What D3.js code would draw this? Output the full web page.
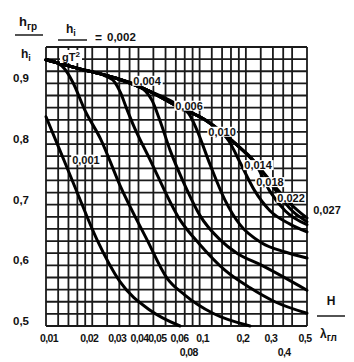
<!DOCTYPE html>
<html><head><meta charset="utf-8">
<script src="https://cdn.jsdelivr.net/npm/d3@7"></script>
<style>body{margin:0;background:#fff}svg{display:block}text{font-family:"Liberation Sans",Arial,sans-serif;font-weight:bold;fill:#111}</style>
</head><body><svg id="c" width="354" height="362"></svg>
<script>
// ---- data ----
const xGrid = [0.01,0.012,0.014,0.016,0.018,0.02,0.025,0.03,0.035,0.04,0.05,0.06,0.07,0.08,0.09,0.1,0.12,0.14,0.16,0.18,0.2,0.25,0.3,0.35,0.4,0.5];
const yGrid = d3.range(0,24).map(i=>+(0.5+i*0.02).toFixed(2));
const xTicksRow1 = [0.01,0.02,0.03,0.04,0.05,0.06,0.1,0.2,0.3,0.5];
const xTicksRow2 = [0.08,0.4];
const yTicks = [0.5,0.6,0.7,0.8,0.9];
const curveNames = ["0,001","0,002","0,004","0,006","0,010","0,014","0,018","0,022","0,027"];
const c001 = [[0.01,0.845],[0.0123,0.79],[0.0155,0.728],[0.0215,0.642],[0.0303,0.573],[0.0476,0.526],[0.0745,0.5]];
const c002 = [[0.01,0.939],[0.0118,0.934],[0.0132,0.924],[0.015,0.901],[0.0179,0.856],[0.0228,0.807],[0.0303,0.732],[0.0455,0.642],[0.0613,0.579],[0.0802,0.551],[0.122,0.521],[0.213,0.5]];
const c004 = [[0.01,0.939],[0.0166,0.924],[0.0245,0.912],[0.028,0.902],[0.0305,0.885],[0.0333,0.86],[0.0365,0.835],[0.0476,0.774],[0.0745,0.675],[0.1006,0.634],[0.146,0.592],[0.213,0.563],[0.309,0.54],[0.5,0.521]];
const c006 = [[0.01,0.939],[0.0166,0.924],[0.029,0.908],[0.04,0.895],[0.0445,0.887],[0.049,0.872],[0.0553,0.838],[0.0642,0.79],[0.0802,0.732],[0.1006,0.682],[0.136,0.642],[0.175,0.62],[0.254,0.6],[0.5,0.559]];
const c010 = [[0.01,0.939],[0.0166,0.924],[0.029,0.908],[0.0455,0.889],[0.0745,0.862],[0.085,0.85],[0.095,0.826],[0.117,0.766],[0.146,0.708],[0.183,0.667],[0.254,0.637],[0.36,0.622],[0.5,0.612]];
const c014 = [[0.01,0.939],[0.0166,0.924],[0.029,0.908],[0.0455,0.889],[0.0745,0.860],[0.1083,0.840],[0.13,0.826],[0.155,0.805],[0.183,0.77],[0.227,0.724],[0.287,0.69],[0.388,0.668],[0.5,0.655]];
const c018 = [[0.01,0.939],[0.0166,0.924],[0.029,0.908],[0.0455,0.889],[0.0745,0.860],[0.1083,0.840],[0.140,0.819],[0.183,0.794],[0.227,0.771],[0.287,0.722],[0.36,0.69],[0.5,0.667]];
const c022 = [[0.01,0.939],[0.0166,0.924],[0.029,0.908],[0.0455,0.889],[0.0745,0.860],[0.1083,0.840],[0.140,0.819],[0.183,0.794],[0.240,0.764],[0.3,0.73],[0.4,0.69],[0.5,0.672]];
const c027 = [[0.01,0.939],[0.0166,0.924],[0.029,0.908],[0.0455,0.889],[0.0745,0.860],[0.1083,0.840],[0.140,0.819],[0.183,0.794],[0.240,0.764],[0.309,0.73],[0.388,0.702],[0.5,0.678]];
const curves = [c001,c002,c004,c006,c010,c014,c018,c022,c027];
// label anchors in data space
const labelPos = [[0.0182,0.774],[null,null],[0.0455,0.904],[0.0853,0.863],[0.140,0.820],[0.240,0.765],[0.287,0.737],[0.394,0.711],[0.5,0.691]];

// ---- chart ----
const svg = d3.select("#c");
const x = d3.scaleLog().domain([0.01,0.5]).range([46,307]);
const y = d3.scaleLinear().domain([0.5,0.96]).range([326,47]);
const ink = "#1a1a1a";

const g = svg.append("g");
g.selectAll("line.v").data(xGrid).join("line").attr("class","v")
  .attr("x1",d=>x(d)).attr("x2",d=>x(d)).attr("y1",y(0.96)).attr("y2",y(0.5))
  .attr("stroke",ink).attr("stroke-width",1.8);
g.selectAll("line.h").data(yGrid).join("line").attr("class","h")
  .attr("x1",x(0.01)).attr("x2",x(0.5)).attr("y1",d=>y(d)).attr("y2",d=>y(d))
  .attr("stroke",ink).attr("stroke-width",1.8);

const line = d3.line().x(d=>x(d[0])).y(d=>y(Math.max(0.5,d[1]))).curve(d3.curveMonotoneX);
svg.append("g").selectAll("path").data(curves).join("path")
  .attr("d",line).attr("fill","none").attr("stroke","#000").attr("stroke-width",3).attr("stroke-linecap","round");

// curve labels with white boxes
curveNames.forEach((n,i)=>{
  const p = labelPos[i]; if(p[0]==null) return;
  let cx = x(p[0]), cy = y(p[1]);
  if(i===8){ cx += 20; }
  const t = svg.append("text").attr("x",cx).attr("y",cy).attr("text-anchor","middle").attr("dy","0.35em").style("font-size","11px").text(n);
  const bb = t.node().getBBox();
  if(i!==8) svg.insert("rect","text").attr("x",bb.x-1).attr("y",bb.y+1).attr("width",bb.width+2).attr("height",bb.height-2).attr("fill","#fff");
});
// arrow for 0,027
svg.append("line").attr("x1",x(0.5)-2).attr("y1",y(0.678)).attr("x2",x(0.42)).attr("y2",y(0.683)).attr("stroke","#000").attr("stroke-width",1.5);

// axis tick labels (small nudges keep crowded labels readable, as in the original)
const nudge = {0.01:3,0.02:-3,0.03:-2,0.04:1,0.05:4,0.06:14,0.1:3,0.2:-3,0.3:-2,0.5:-2,0.08:4,0.4:-8};
svg.append("g").selectAll("text").data(xTicksRow1).join("text")
  .attr("x",d=>x(d)+(nudge[d]||0)).attr("y",y(0.5)+12).attr("text-anchor","middle").attr("dy","0.35em")
  .style("font-size","10.5px").style("letter-spacing","-0.6px").text(d=>String(d).replace(".",","));
svg.append("g").selectAll("text").data(xTicksRow2).join("text")
  .attr("x",d=>x(d)+(nudge[d]||0)).attr("y",y(0.5)+26).attr("text-anchor","middle").attr("dy","0.35em")
  .style("font-size","10.5px").style("letter-spacing","-0.6px").text(d=>String(d).replace(".",","));
svg.append("g").selectAll("text").data(yTicks).join("text")
  .attr("x",21).attr("y",d=>y(d)-5).attr("text-anchor","middle").attr("dy","0.35em")
  .style("font-size","11.5px").text(d=>d.toFixed(1).replace(".",","));

// y axis title: h_гр / h_i
const yt = svg.append("text").attr("x",19).attr("y",26).style("font-size","13px");
yt.append("tspan").text("h");
yt.append("tspan").attr("dy",4).style("font-size","10px").text("гр");
svg.append("line").attr("x1",15).attr("x2",43).attr("y1",35).attr("y2",35).attr("stroke",ink).attr("stroke-width",1.5);
const yt2 = svg.append("text").attr("x",21).attr("y",58).style("font-size","12px");
yt2.append("tspan").text("h");
yt2.append("tspan").attr("dy",3).style("font-size","9px").text("i");

// formula h_i / gT² = 0,002
const f1 = svg.append("text").attr("x",66).attr("y",33).style("font-size","12px");
f1.append("tspan").text("h");
f1.append("tspan").attr("dy",3).style("font-size","9px").text("i");
svg.append("line").attr("x1",58).attr("x2",87).attr("y1",40).attr("y2",40).attr("stroke",ink).attr("stroke-width",1.5);
svg.append("text").attr("x",95).attr("y",42).style("font-size","12px").text("=");
svg.append("text").attr("x",107).attr("y",41).style("font-size","11.5px").text("0,002");
svg.append("rect").attr("x",60).attr("y",50).attr("width",22).attr("height",13).attr("fill","#fff");
const f2 = svg.append("text").attr("x",62).attr("y",61).style("font-size","11px");
f2.append("tspan").text("gT");
f2.append("tspan").attr("dy",-4).style("font-size","8px").text("2");

// x axis title H / λ_гл
svg.append("text").attr("x",331).attr("y",305).attr("text-anchor","middle").style("font-size","12px").text("H");
svg.append("line").attr("x1",317).attr("x2",345).attr("y1",316).attr("y2",316).attr("stroke",ink).attr("stroke-width",1.5);
const xt = svg.append("text").attr("x",320).attr("y",338).style("font-size","12px");
xt.append("tspan").text("λ");
xt.append("tspan").attr("dy",3).style("font-size","10px").text("гл");
</script></body></html>
